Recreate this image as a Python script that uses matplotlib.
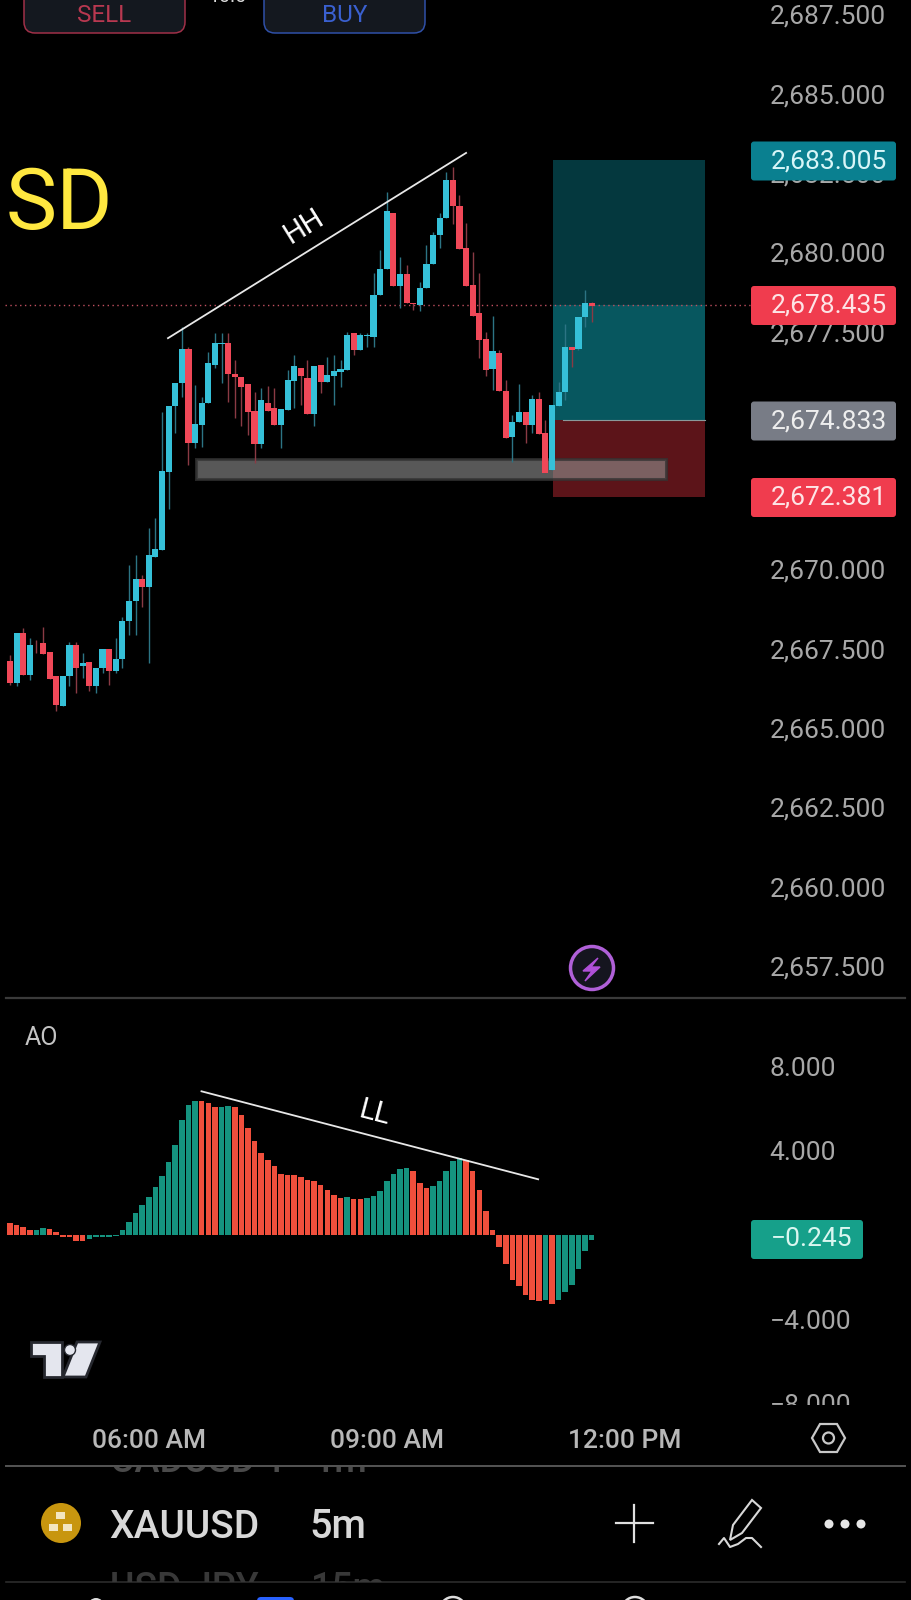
"""Recreate a XAUUSD 5m mobile chart with candles, AO histogram and app chrome."""
from __future__ import annotations

import matplotlib

matplotlib.use("Agg")
import matplotlib.pyplot as plt
import numpy as np
from matplotlib.patches import Circle, FancyBboxPatch, Polygon, Rectangle

plt.rcParams["font.family"] = ["Roboto", "DejaVu Sans"]

OPEN = [
    2667.11, 2666.43, 2668.00, 2666.67, 2667.56, 2667.68, 2667.40, 2666.64, 2665.69, 2666.64,
    2667.62, 2666.96, 2667.08, 2666.32, 2666.89, 2667.50, 2666.80, 2667.19, 2668.37, 2669.00,
    2669.71, 2669.46, 2670.40, 2670.61, 2673.07, 2675.15, 2675.89, 2676.95, 2673.99, 2674.55,
    2675.25, 2676.45, 2677.11, 2677.15, 2676.16, 2676.07, 2675.85, 2674.99, 2673.96, 2675.26,
    2675.10, 2674.54, 2675.03, 2675.95, 2676.36, 2676.04, 2674.90, 2676.44, 2675.90, 2676.10,
    2676.22, 2676.29, 2677.44, 2676.92, 2677.36, 2677.32, 2678.65, 2679.47, 2681.25, 2678.94,
    2679.31, 2678.41, 2678.33, 2678.86, 2679.64, 2680.54, 2681.07, 2682.28, 2681.46, 2680.14,
    2678.97, 2678.07, 2677.26, 2676.33, 2676.81, 2675.62, 2674.16, 2674.66, 2674.97, 2674.55,
    2675.38, 2674.31, 2673.13, 2675.15, 2675.59, 2677.02, 2676.95, 2677.97, 2678.39,
]
HIGH = [
    2667.30, 2668.00, 2668.15, 2667.84, 2667.77, 2668.18, 2667.40, 2666.64, 2666.64, 2667.71,
    2667.71, 2667.37, 2667.08, 2666.89, 2667.50, 2667.50, 2667.84, 2668.50, 2670.14, 2670.45,
    2669.82, 2671.31, 2671.62, 2674.97, 2675.15, 2675.89, 2677.65, 2677.02, 2675.81, 2675.45,
    2676.86, 2677.45, 2677.45, 2677.46, 2676.60, 2676.07, 2675.85, 2675.60, 2675.72, 2675.78,
    2675.72, 2675.06, 2676.29, 2676.76, 2676.36, 2676.60, 2676.41, 2676.44, 2676.70, 2676.76,
    2676.60, 2677.49, 2677.44, 2677.44, 2677.45, 2679.35, 2680.07, 2681.91, 2681.25, 2679.86,
    2679.60, 2678.41, 2679.07, 2680.23, 2680.65, 2681.24, 2682.54, 2682.70, 2681.80, 2680.92,
    2680.02, 2679.34, 2677.49, 2677.99, 2676.92, 2675.97, 2674.87, 2675.85, 2674.97, 2675.50,
    2675.60, 2674.71, 2675.18, 2675.92, 2677.74, 2677.02, 2677.97, 2678.81, 2678.43,
]
LOW = [
    2666.36, 2666.33, 2666.67, 2666.51, 2667.36, 2667.33, 2666.55, 2665.54, 2665.69, 2666.32,
    2666.10, 2666.58, 2666.17, 2666.10, 2666.73, 2666.36, 2666.73, 2666.89, 2667.93, 2667.93,
    2668.82, 2667.05, 2670.40, 2670.61, 2671.90, 2674.30, 2675.45, 2673.29, 2673.83, 2673.87,
    2675.25, 2676.35, 2675.88, 2675.29, 2674.77, 2674.52, 2674.24, 2673.35, 2673.83, 2675.00,
    2674.54, 2673.83, 2675.03, 2675.09, 2675.18, 2674.90, 2674.52, 2675.56, 2675.90, 2675.18,
    2675.76, 2676.29, 2676.76, 2676.92, 2677.02, 2677.01, 2678.65, 2679.47, 2678.94, 2678.24,
    2678.39, 2678.18, 2678.16, 2678.86, 2679.64, 2680.13, 2681.07, 2680.89, 2680.11, 2678.94,
    2678.00, 2676.66, 2676.10, 2675.66, 2675.62, 2674.13, 2673.40, 2674.66, 2673.99, 2674.30,
    2674.26, 2673.03, 2673.13, 2675.15, 2675.34, 2676.39, 2676.92, 2677.64, 2677.80,
]
CLOSE = [
    2666.43, 2668.00, 2666.67, 2667.62, 2667.54, 2667.33, 2666.55, 2665.73, 2666.64, 2667.62,
    2666.89, 2667.06, 2666.32, 2666.89, 2667.50, 2666.80, 2667.19, 2668.37, 2669.00, 2669.71,
    2669.46, 2670.45, 2670.64, 2673.10, 2675.15, 2675.89, 2676.95, 2673.99, 2674.58, 2675.26,
    2676.51, 2677.14, 2677.15, 2676.15, 2676.06, 2675.74, 2674.95, 2673.96, 2675.34, 2675.00,
    2674.54, 2675.06, 2675.97, 2676.41, 2676.10, 2674.90, 2676.41, 2675.90, 2676.12, 2676.26,
    2676.33, 2677.39, 2676.92, 2677.39, 2677.39, 2678.65, 2679.47, 2681.30, 2678.94, 2679.31,
    2678.39, 2678.37, 2678.88, 2679.64, 2680.54, 2681.09, 2682.28, 2681.46, 2680.11, 2678.94,
    2678.00, 2677.23, 2676.29, 2676.89, 2675.62, 2674.13, 2674.66, 2674.97, 2674.55, 2675.38,
    2674.26, 2673.03, 2675.18, 2675.60, 2677.02, 2676.92, 2677.97, 2678.41, 2678.30,
]
AO_VALUES = [
    0.58, 0.47, 0.36, 0.24, 0.24, 0.35, 0.30, 0.13, -0.11, -0.11,
    -0.28, -0.30, -0.19, -0.11, -0.11, -0.11, -0.05, 0.24, 0.63, 1.06,
    1.42, 1.79, 2.26, 2.80, 3.44, 4.27, 5.45, 6.16, 6.35, 6.35,
    6.27, 6.05, 6.05, 6.10, 6.05, 5.69, 5.09, 4.45, 3.90, 3.55,
    3.25, 2.89, 2.84, 2.84, 2.73, 2.61, 2.54, 2.37, 2.13, 1.90,
    1.74, 1.79, 1.72, 1.72, 1.74, 1.83, 2.09, 2.56, 2.89, 3.13,
    3.19, 3.03, 2.48, 2.24, 2.31, 2.54, 3.03, 3.49, 3.63, 3.55,
    3.03, 2.13, 1.12, 0.24, -0.58, -1.36, -2.13, -2.43, -2.84, -3.10,
    -3.14, -3.08, -3.25, -3.08, -2.72, -2.37, -1.60, -0.76, -0.24,
]
AO_SIGN = (
    "rrrrggrrrrrr" "ggggggggggggggggg" "rrrgg" "rrrrrrrrrrrrrrrrr" "grr" "ggggggg"
    "rrrggggg" "rrrrrrrrrrrr" "gr" "gggggg"
)

PRICE_TICKS = [2687.5, 2685.0, 2682.5, 2680.0, 2677.5, 2675.0, 2672.5, 2670.0, 2667.5,
               2665.0, 2662.5, 2660.0, 2657.5]
AO_TICKS = [8.0, 4.0, -4.0, -8.0]
TIME_TICKS = [21, 57, 93]
TIME_LABELS = ["06:00 AM", "09:00 AM", "12:00 PM"]

TARGET_PRICE = 2683.005
LAST_PRICE = 2678.435
ENTRY_PRICE = 2674.833
STOP_PRICE = 2672.381
AO_LAST = -0.245

BLUE = "#35c0d8"
RED = "#f04858"
AO_GREEN = "#15937f"
AO_RED = "#f04f3c"
TICK_GREY = "#a8a8a8"

W, H = 912, 1600
BAR_X0, BAR_DX = 10.0, 6.61
PRICE_TOP, PRICE_PER_PX = 2687.951, 0.031526
LABEL_SHIFT = 0.11


def px_axes(fig, top: float, bottom: float):
    ax = fig.add_axes([0, 1 - bottom / H, 1, (bottom - top) / H], facecolor="black")
    ax.set_xlim(-BAR_X0 / BAR_DX, (W - BAR_X0) / BAR_DX)
    for spine in ax.spines.values():
        spine.set_visible(False)
    return ax


def draw_price_panel(ax) -> None:
    ax.set_ylim(PRICE_TOP - 1000 * PRICE_PER_PX, PRICE_TOP)
    x = np.arange(len(OPEN))
    o, h, l, c = map(np.array, (OPEN, HIGH, LOW, CLOSE))
    up = c >= o

    # position tool behind the candles
    ax.add_patch(Rectangle((82.1, LAST_PRICE - LABEL_SHIFT), 23, TARGET_PRICE - LAST_PRICE, color="#04383e", lw=0, zorder=1))
    ax.add_patch(Rectangle((82.1, ENTRY_PRICE - LABEL_SHIFT), 23, LAST_PRICE - ENTRY_PRICE, color="#07575f", lw=0, zorder=1))
    ax.add_patch(Rectangle((82.1, STOP_PRICE - LABEL_SHIFT), 23, ENTRY_PRICE - STOP_PRICE, color="#5c1419", lw=0, zorder=1))
    ax.plot([83.6, 105.1], [ENTRY_PRICE - LABEL_SHIFT] * 2, color="#8a9a9a", lw=0.8, zorder=1.5)

    ax.plot([-0.7, 112], [LAST_PRICE - LABEL_SHIFT] * 2, color="#c05060", lw=1.0, ls=(0, (1, 2.5)), zorder=1.5)

    # support zone sits under the candles, over the position tool
    ax.add_patch(Rectangle((28.2, 2672.85), 71, 0.63, facecolor=(0.56, 0.56, 0.56, 0.62),
                           edgecolor=(0.2, 0.2, 0.2, 0.75), lw=2.2, zorder=1.8))

    ax.vlines(x[up], l[up], h[up], color="#2c7484", lw=1.0, zorder=2)
    ax.vlines(x[~up], l[~up], h[~up], color="#8a3a44", lw=1.0, zorder=2)
    ax.bar(x[up], (c - o)[up], bottom=o[up], width=0.93, color=BLUE, lw=0, zorder=3)
    ax.bar(x[~up], (o - c)[~up], bottom=c[~up], width=0.93, color=RED, lw=0, zorder=3)

    ax.plot([23.9, 69.0], [2677.29, 2683.13], color="#e8e8e8", lw=1.3, zorder=4)
    ax.text(44.5, 2680.82, "HH", color="white", fontsize=21, rotation=31.8, ha="center", va="center", zorder=4)

    ax.yaxis.tick_right()
    ax.set_yticks(PRICE_TICKS)
    ax.set_yticklabels([f"{t:,.3f}" for t in PRICE_TICKS])
    ax.tick_params(axis="y", length=0, pad=-102.5, labelsize=19, labelcolor=TICK_GREY)
    for label in ax.get_yticklabels():
        label.set_ha("left")
    ax.set_xticks([])


def draw_ao_panel(ax) -> None:
    ax.set_ylim(-8.057, 11.137)
    x = np.arange(len(AO_VALUES))
    colors = [AO_GREEN if s == "g" else AO_RED for s in AO_SIGN]
    ax.bar(x, AO_VALUES, width=0.84, color=colors, lw=0, zorder=2)
    ax.plot([28.97, 79.9], [6.81, 2.64], color="#e8e8e8", lw=1.3, zorder=3)
    ax.text(55.2, 5.78, "LL", color="white", fontsize=21, rotation=-14.6, ha="center", va="center", zorder=3)
    ax.text(25 / W, 0.905, "AO", color="#c4c4c4", fontsize=18, transform=ax.transAxes, ha="left", va="center")

    ax.yaxis.tick_right()
    ax.set_yticks(AO_TICKS)
    ax.set_yticklabels([f"{t:.3f}".replace("-", "\u2212") for t in AO_TICKS])
    ax.tick_params(axis="y", length=0, pad=-102.5, labelsize=19, labelcolor=TICK_GREY)
    for label in ax.get_yticklabels():
        label.set_ha("left")

    ax.set_xticks(TIME_TICKS)
    ax.set_xticklabels(TIME_LABELS)
    ax.tick_params(axis="x", length=0, pad=17, labelsize=19, labelcolor="#b8b8b8")
    for label in ax.get_xticklabels():
        label.set_fontweight("medium")


def value_box(ov, y: float, right: float, text: str, color: str, text_color: str) -> None:
    ov.add_patch(FancyBboxPatch((751, y - 19.5), right - 751, 39, boxstyle="round,pad=0,rounding_size=3",
                                facecolor=color, edgecolor="none", zorder=5))
    ov.text(770.5, y - 2.5, text, color=text_color, fontsize=19, ha="left", va="center_baseline", zorder=6)


def clipped_text(ov, x, y, text, size, color, top, bottom) -> None:
    t = ov.text(x, y, text, color=color, fontsize=size, ha="left", va="center", fontweight="medium")
    t.set_clip_path(Rectangle((0, top), W, bottom - top, transform=ov.transData))
    t.set_clip_on(True)


def draw_chrome(ov) -> None:
    ov.set_xlim(0, W)
    ov.set_ylim(H, 0)
    ov.axis("off")

    # top order buttons
    for x0, x1, edge, label, color in [(24, 185, "#a03048", "SELL", "#b83850"), (264, 425, "#2f50a8", "BUY", "#3a60d0")]:
        ov.add_patch(FancyBboxPatch((x0, -20), x1 - x0, 53, boxstyle="round,pad=0,rounding_size=11",
                                    facecolor="#14181f", edgecolor=edge, lw=1.1))
        ov.text((x0 + x1) / 2, 16, label, color=color, fontsize=17.5, ha="center", va="center")
    ov.text(227, -3, "10.0", color="#dddddd", fontsize=14, ha="center", va="center")

    ov.text(6, 206, "SD", color="#ffe840", fontsize=62, ha="left", va="center")

    value_box(ov, 161, 896, f"{TARGET_PRICE:,.3f}", "#0a8090", "#d8f6f8")
    value_box(ov, 305.5, 896, f"{LAST_PRICE:,.3f}", "#f03c4e", "#fde4e6")
    value_box(ov, 421, 896, f"{ENTRY_PRICE:,.3f}", "#787c86", "#eeeeee")
    value_box(ov, 497.5, 896, f"{STOP_PRICE:,.3f}", "#f03c4e", "#fde4e6")
    value_box(ov, 1239.5, 863, f"{AO_LAST:.3f}".replace("-", "\u2212"), "#16a08a", "#daf6f0")

    # lightning badge
    ov.add_patch(Circle((592, 968), 21.5, facecolor="#15151f", edgecolor="#b060d8", lw=2.5))
    ov.add_patch(Polygon([(598, 958), (583, 971), (592, 971), (585, 981), (600, 967), (591, 967)],
                         facecolor="#b050d8", edgecolor="#b050d8", lw=1.0))

    # panel dividers
    ov.plot([6, 905], [998, 998], color="#3a3a3a", lw=1.6)
    ov.plot([6, 905], [1466, 1466], color="#555555", lw=1.4)
    ov.plot([6, 905], [1582, 1582], color="#2c2c2c", lw=1.2)
    ov.add_patch(Rectangle((0, 1405), W, 15, facecolor="black", edgecolor="none"))

    # TradingView mark
    logo = [
        [(31, 1342), (62, 1342), (62, 1377), (44, 1377), (44, 1356), (31, 1356)],
        [(77, 1342), (100, 1342), (86, 1377), (63, 1377)],
    ]
    for pts in logo:
        ov.add_patch(Polygon(pts, facecolor="#e4e6ee", edgecolor="#26282f", lw=2.0))
    ov.add_patch(Circle((70, 1350), 5.5, facecolor="#e4e6ee", edgecolor="#26282f", lw=1.0))

    # settings hexagon
    hex_pts = [(812, 1438), (820, 1424), (837, 1424), (845, 1438), (837, 1452), (820, 1452)]
    ov.add_patch(Polygon(hex_pts, facecolor="none", edgecolor="#c8c8c8", lw=1.6))
    ov.add_patch(Circle((828.5, 1438), 5.5, facecolor="none", edgecolor="#c8c8c8", lw=1.6))

    # watchlist rows scrolled behind the bar
    clipped_text(ov, 110, 1461, "CADUSD 1", 27, "#4a4a4a", 1467, 1482)
    clipped_text(ov, 314, 1461, "1m", 27, "#4a4a4a", 1467, 1482)
    clipped_text(ov, 110, 1589, "USD JPY", 27, "#383838", 1568, 1582)
    clipped_text(ov, 311, 1589, "15m", 27, "#383838", 1568, 1582)

    # symbol row
    ov.add_patch(Circle((61, 1523), 20, facecolor="#c8960f", edgecolor="none"))
    for bx, by in [(61, 1515), (54, 1527), (68, 1527)]:
        ov.add_patch(Rectangle((bx - 4.5, by - 3.5), 9, 7, facecolor="#f3e6c0", edgecolor="none"))
    ov.text(109, 1527, "XAUUSD", color="#d8d8d8", fontsize=28, fontweight="medium", ha="left", va="center")
    ov.text(309, 1527, "5m", color="#d8d8d8", fontsize=28.5, fontweight="medium", ha="left", va="center")
    ov.plot([616, 653], [1523, 1523], color="#e0e0e0", lw=1.6)
    ov.plot([634.5, 634.5], [1505, 1542], color="#e0e0e0", lw=1.6)

    # pen icon
    ov.add_patch(Polygon([(752, 1500), (761, 1508), (742, 1533), (730, 1540), (733, 1525)],
                         facecolor="none", edgecolor="#d8d8d8", lw=1.5))
    ov.plot([719, 724, 730, 738, 746, 752, 761], [1544, 1538, 1547, 1544, 1538, 1538, 1547], color="#d8d8d8", lw=1.5)
    for dx in [829, 845, 861]:
        ov.add_patch(Circle((dx, 1524), 4.5, facecolor="#e6e6e6", edgecolor="none"))

    # tops of the navigation icons at the bottom edge
    ov.add_patch(Circle((96, 1606), 8, facecolor="#dddddd", edgecolor="none"))
    ov.add_patch(FancyBboxPatch((257, 1597), 37, 12, boxstyle="round,pad=0,rounding_size=4", facecolor="#2962ff", edgecolor="none"))
    ov.add_patch(Circle((453, 1610), 13, facecolor="none", edgecolor="#dddddd", lw=1.8))
    ov.add_patch(Circle((635, 1610), 13, facecolor="none", edgecolor="#dddddd", lw=1.8))


def main() -> None:
    fig = plt.figure(figsize=(W / 100, H / 100), dpi=100, facecolor="black")
    draw_price_panel(px_axes(fig, 0, 1000))
    draw_ao_panel(px_axes(fig, 1000, 1405))
    ov = fig.add_axes([0, 0, 1, 1], zorder=10)
    ov.patch.set_alpha(0)
    draw_chrome(ov)
    fig.savefig("out.png", dpi=100, facecolor="black")
    plt.close(fig)


if __name__ == "__main__":
    main()
